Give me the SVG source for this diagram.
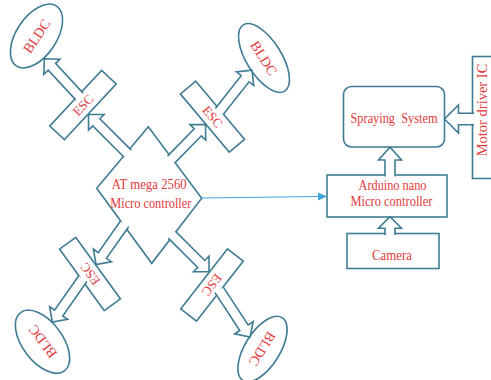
<svg xmlns="http://www.w3.org/2000/svg" width="491" height="380" viewBox="0 0 491 380">
<style>
.s{fill:#fff;stroke:#3f7c93;stroke-width:1.6;stroke-linejoin:miter}
.t{font-family:"Liberation Serif","Times New Roman",serif;font-size:14px;fill:#e2393d;text-anchor:middle}
.ts{font-size:13px}
.tb{font-size:14px}
.b{stroke:#3da5dc;stroke-width:1.2;fill:none}
</style>
<rect width="491" height="380" fill="#fff"/>
<g id="atmega">
<polygon class="s" points="96.7,188.3 148.3,126.7 201.7,198.3 151.7,263.3"/>
<text class="t" x="149.2" y="189" textLength="75" lengthAdjust="spacingAndGlyphs">AT mega 2560</text>
<text class="t" x="150.8" y="208" textLength="81" lengthAdjust="spacingAndGlyphs">Micro controller</text>
</g>
<g id="esc-tl" transform="translate(83,105) rotate(-47)"><rect class="s" x="-38" y="-10" width="76" height="20"/><text class="t ts" x="0" y="4.5">ESC</text></g>
<g id="esc-tr" transform="translate(212.5,116.7) rotate(50)"><rect class="s" x="-38" y="-10" width="76" height="20"/><text class="t ts" x="0" y="4.5">ESC</text></g>
<g id="esc-br" transform="translate(212,285) rotate(128)"><rect class="s" x="-38" y="-10" width="76" height="20"/><text class="t ts" x="0" y="4.5">ESC</text></g>
<g id="esc-bl" transform="translate(90,274) rotate(234)"><rect class="s" x="-38" y="-10" width="76" height="20"/><text class="t ts" x="0" y="4.5">ESC</text></g>
<g id="bldc-tl" transform="translate(36.5,36) rotate(-56)"><ellipse class="s" rx="36" ry="20"/><text class="t tb" x="0" y="5">BLDC</text></g>
<g id="bldc-tr" transform="translate(264,58) rotate(58)"><ellipse class="s" rx="39" ry="17.5"/><text class="t tb" x="0" y="5">BLDC</text></g>
<g id="bldc-br" transform="translate(262.5,349) rotate(122)"><ellipse class="s" rx="37" ry="17.5"/><text class="t tb" x="0" y="5">BLDC</text></g>
<g id="bldc-bl" transform="translate(42.5,341.7) rotate(233)"><ellipse class="s" rx="36.5" ry="20"/><text class="t tb" x="0" y="5">BLDC</text></g>
<g id="spraying"><rect class="s" x="343.5" y="86.5" width="101" height="60.5" rx="8"/><text class="t" x="394" y="122.5" textLength="87" lengthAdjust="spacingAndGlyphs" style="white-space:pre">Spraying  System</text></g>
<g id="arduino"><rect class="s" x="327" y="175" width="120" height="42"/><text class="t" x="392.5" y="190" textLength="68" lengthAdjust="spacingAndGlyphs">Arduino nano</text><text class="t" x="391.5" y="206" textLength="82" lengthAdjust="spacingAndGlyphs">Micro controller</text></g>
<g id="camera"><rect class="s" x="347" y="233.5" width="92" height="35"/><text class="t" x="392" y="259.5" textLength="40" lengthAdjust="spacingAndGlyphs">Camera</text></g>
<g id="motor"><rect class="s" x="472.5" y="56.5" width="30" height="122"/><text class="t" transform="translate(487,110) rotate(-90)" x="0" y="0" style="font-size:14.5px">Motor driver IC</text></g>
<g id="connectors">
<path class="s" transform="translate(127.7,153.7) rotate(-135)" d="M0,-5H44.4V-11L55.4,0L44.4,11V5H0"/>
<path class="s" transform="translate(79.4,96.5) rotate(-132.8)" d="M0,-5H40.5V-11L51.5,0L40.5,11V5H0"/>
<path class="s" transform="translate(171.1,159.6) rotate(-45.6)" d="M0,-5H38.2V-11L49.2,0L38.2,11V5H0"/>
<path class="s" transform="translate(219.3,111.5) rotate(-51.8)" d="M0,-5H41.7V-11L52.7,0L41.7,11V5H0"/>
<path class="s" transform="translate(171.8,234.6) rotate(45)" d="M0,-5H41.6V-11L52.6,0L41.6,11V5H0"/>
<path class="s" transform="translate(219.1,289.9) rotate(56.7)" d="M0,-5H45.3V-11L56.3,0L45.3,11V5H0"/>
<path class="s" transform="translate(124.6,223.8) rotate(125.1)" d="M0,-5H38.7V-11L49.7,0L38.7,11V5H0"/>
<path class="s" transform="translate(82.8,278.7) rotate(125.1)" d="M0,-5H42V-11L53,0L42,11V5H0"/>
<path class="s" transform="translate(390,176.5) rotate(-90)" d="M0,-5H16.5V-11.5L29.2,0L16.5,11.5V5H0"/>
<path class="s" transform="translate(390,235) rotate(-90)" d="M0,-5H6.8V-11.5L18.3,0L6.8,11.5V5H0"/>
<path class="s" transform="translate(474,119) rotate(180)" d="M0,-5.8H15.5V-14L29.5,0L15.5,14V5.8H0"/>
<line class="b" x1="202" y1="198" x2="319" y2="196.5"/>
<polygon points="327,196.4 318,192.5 318,200.5" fill="#3da5dc"/>
</g>
</svg>
